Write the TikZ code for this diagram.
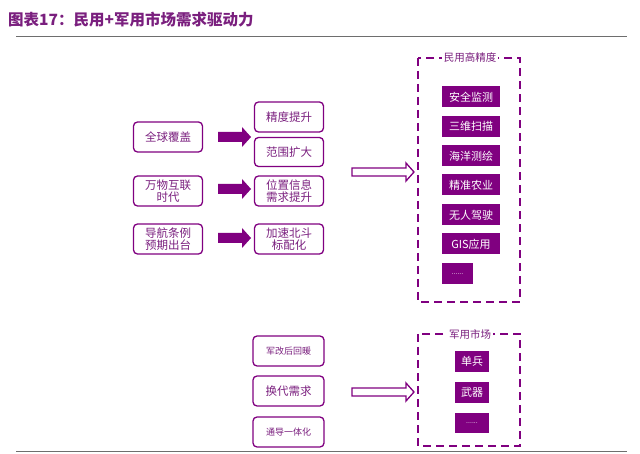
\documentclass[tikz,border=0pt]{standalone}
\usepackage{fontspec}
\setmainfont{Noto Sans CJK SC}
\newfontfamily\cjk{Noto Sans CJK SC}
\usetikzlibrary{positioning}
\definecolor{pur}{HTML}{800080}
\definecolor{ptxt}{HTML}{7A1F7E}
\definecolor{rulegray}{HTML}{6E6E6E}
\tikzset{
  rbox/.style={draw=pur, line width=1.3pt, rounded corners=4pt, minimum width=69pt, minimum height=30pt, text=ptxt, font=\cjk\fontsize{11.5}{12.5}\selectfont, align=center, inner sep=1pt},
  fbox/.style={fill=pur, text=white, font=\cjk\fontsize{11}{12}\selectfont, minimum height=21pt, inner sep=1pt},
  dbox/.style={draw=pur, line width=1.6pt, dash pattern=on 8pt off 5pt},
  farrow/.style={fill=pur, draw=none},
  harrow/.style={draw=pur, line width=1.3pt, fill=white},
  dtitle/.style={fill=white, text=ptxt, font=\cjk\fontsize{10.5}{11}\selectfont, inner sep=2pt},
  dots/.style={font=\cjk\fontsize{7}{8}\selectfont}
}
\begin{document}
\begin{tikzpicture}[x=1pt,y=-1pt]
\useasboundingbox (0,0) rectangle (640,454);
% title
\node[anchor=west, text=ptxt, font=\cjk\bfseries\fontsize{15.5}{17}\selectfont, inner sep=0] (title) at (8,20) {图表17：民用+军用市场需求驱动力};
\draw[rulegray, line width=1pt] (16,37) -- (627,37);
\draw[rulegray, line width=1pt] (16,451) -- (627,451);

% left column
\node[rbox] (a1) at (168,137) {全球覆盖};
\node[rbox] (a2) at (168,191) {万物互联\\时代};
\node[rbox] (a3) at (168,239) {导航条例\\预期出台};

% middle column
\node[rbox] (b1) at (289,117) {精度提升};
\node[rbox, minimum height=29pt] (b2) at (289,152) {范围扩大};
\node[rbox] (b3) at (289,191) {位置信息\\需求提升};
\node[rbox] (b4) at (289,239) {加速北斗\\标配化};

% filled arrows
\foreach \y/\n in {137/f1,189/f2,238/f3}{
  \fill[farrow] (218,\y-5) -- (242,\y-5) -- (242,\y-10) -- (251,\y) -- (242,\y+10) -- (242,\y+5) -- (218,\y+5) -- cycle;
}

% civil dashed box
\draw[dbox] (418,58) rectangle (520,302);
\node[dtitle] (ct) at (470,58) {民用高精度};
\node[fbox, minimum width=58pt] (c1) at (471,97) {安全监测};
\node[fbox, minimum width=58pt] (c2) at (471,126.5) {三维扫描};
\node[fbox, minimum width=58pt] (c3) at (471,156) {海洋测绘};
\node[fbox, minimum width=58pt] (c4) at (471,185) {精准农业};
\node[fbox, minimum width=58pt] (c5) at (471,215) {无人驾驶};
\node[fbox, minimum width=58pt] (c6) at (471,244) {GIS应用};
\node[fbox, minimum width=31pt, dots] (c7) at (457.5,274) {......};

% hollow arrow 1
\draw[harrow] (352,168) -- (406,168) -- (406,163) -- (414,172) -- (406,181) -- (406,176) -- (352,176) -- cycle;

% bottom section
\node[rbox, minimum width=71pt, font=\cjk\fontsize{9}{10}\selectfont] (d1) at (288.5,351) {军改后回暖};
\node[rbox, minimum width=71pt] (d2) at (288.5,391) {换代需求};
\node[rbox, minimum width=71pt, font=\cjk\fontsize{9}{10}\selectfont] (d3) at (288.5,432) {通导一体化};

\draw[dbox] (418,334) rectangle (520,446);
\node[dtitle] (mt) at (470,334) {军用市场};
\node[fbox, minimum width=34pt] (m1) at (472,361.5) {单兵};
\node[fbox, minimum width=34pt] (m2) at (472,392.5) {武器};
\node[fbox, minimum width=34pt, minimum height=20pt, dots] (m3) at (472,423) {......};

\draw[harrow] (352,388) -- (406,388) -- (406,383) -- (414,392) -- (406,401) -- (406,396) -- (352,396) -- cycle;
\end{tikzpicture}
\end{document}
